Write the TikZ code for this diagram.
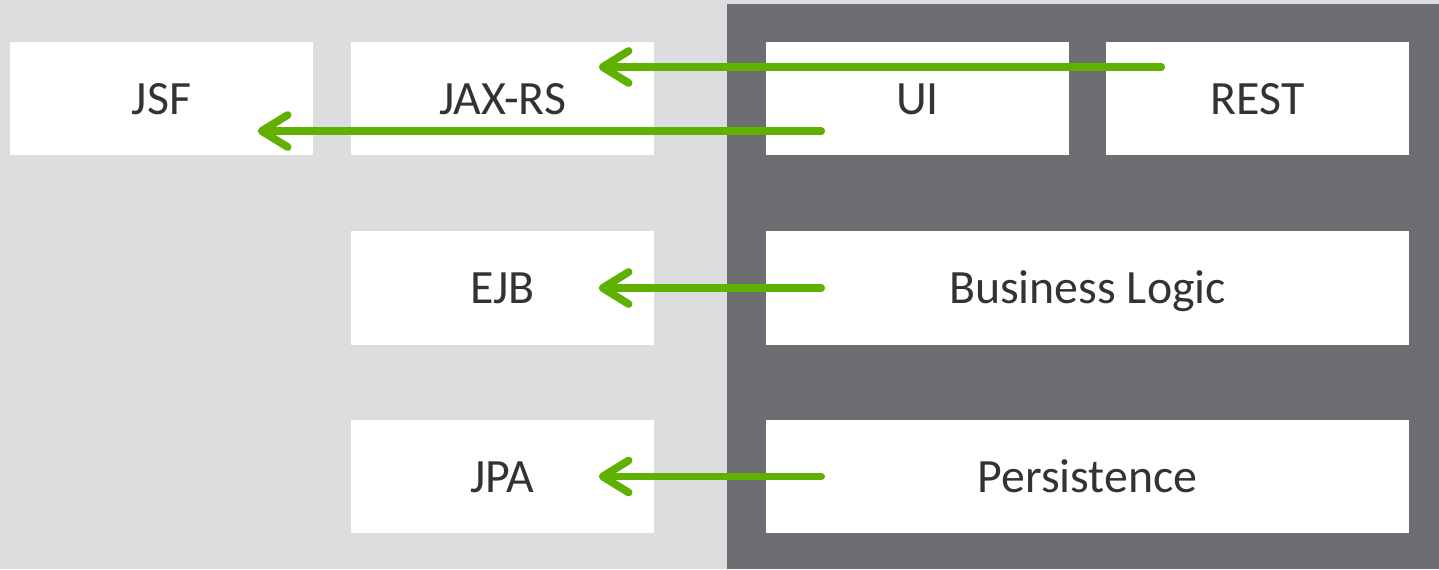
\documentclass[tikz,border=0pt]{standalone}
\usepackage{fontspec}
\setmainfont{Carlito}
\usetikzlibrary{arrows.meta}
\definecolor{bglight}{HTML}{DCDDDF}
\definecolor{bgdark}{HTML}{6D6E71}
\definecolor{arrowgreen}{HTML}{5FB000}
\definecolor{textgray}{HTML}{333333}

\begin{document}
\begin{tikzpicture}[x=0.01cm,y=-0.01cm,
    box/.style={fill=white, minimum width=3.03cm, minimum height=1.13cm, inner sep=0pt,
      text height=9pt, text depth=0pt, text=textgray, font=\fontsize{13.6}{16}\selectfont},
    wide/.style={box, minimum width=6.43cm},
    uses/.style={arrowgreen, line width=2.2pt, line cap=round,
      -{Straight Barb[length=2.6mm,width=3.2mm,round]}}]
    % Backgrounds
    \fill[bglight] (0, 0) rectangle (1439, 569);
    \fill[bgdark] (727, 4) rectangle (1439, 569);
    \useasboundingbox (0, 0) rectangle (1439, 569);
    % Java EE side
    \node[box] (jsf) at (161.5, 98.5) {JSF};
    \node[box] (jaxrs) at (502.5, 98.5) {JAX-RS};
    \node[box] (ejb) at (502.5, 288) {EJB};
    \node[box] (jpa) at (502.5, 476.5) {JPA};
    % Application layers
    \node[box] (ui) at (917.5, 98.5) {UI};
    \node[box] (rest) at (1257.5, 98.5) {REST};
    \node[wide] (logic) at (1087.5, 288) {Business Logic};
    \node[wide] (persist) at (1087.5, 476.5) {Persistence};
    % Draw arrows
    \draw[uses] ([xshift=0.56cm,yshift=0.315cm]rest.west) -- ([xshift=-0.56cm,yshift=0.315cm]jaxrs.east);
    \draw[uses] ([xshift=0.56cm,yshift=-0.325cm]ui.west) -- ([xshift=-0.56cm,yshift=-0.325cm]jsf.east);
    \draw[uses] ([xshift=0.56cm]logic.west) -- ([xshift=-0.56cm]ejb.east);
    \draw[uses] ([xshift=0.56cm]persist.west) -- ([xshift=-0.56cm]jpa.east);
\end{tikzpicture}
\end{document}
